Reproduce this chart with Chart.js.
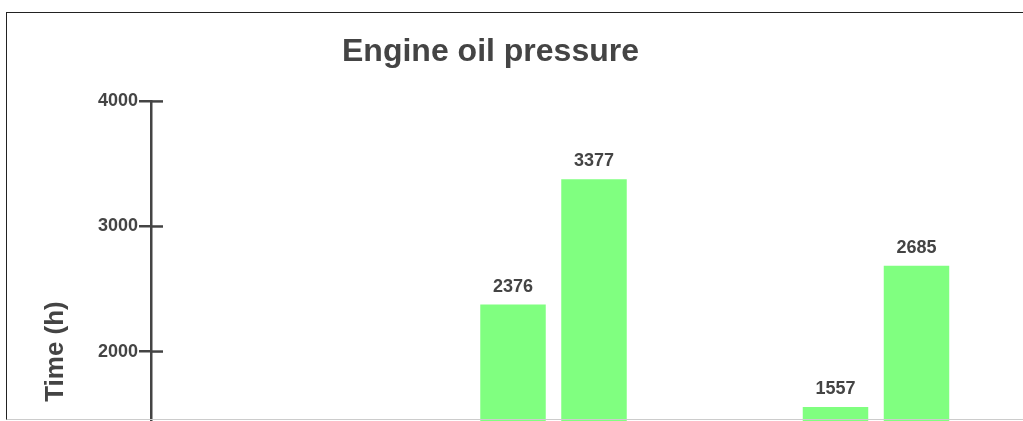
<!DOCTYPE html>
<html>
<head>
<meta charset="utf-8">
<script src="https://cdn.jsdelivr.net/npm/chart.js@4"></script>
<style>
  html, body { margin: 0; padding: 0; background: #fff; overflow: hidden; }
  #wrap { position: relative; width: 1023px; height: 421px; overflow: hidden; }
  #frame {
    position: absolute; left: 6px; top: 12px; width: 1100px; height: 406px;
    border-left: 1px solid #222; border-top: 1px solid #222; border-bottom: 1px solid #ccc;
    pointer-events: none;
  }
</style>
</head>
<body>
<div id="wrap">
  <canvas id="chart" width="1023" height="640"></canvas>
  <div id="frame"></div>
</div>
<script>
// slot positions of the visible groups (slot 0 lies below the visible crop)
const groupSlots = [1, 2];
const seriesA = [2376, 1557];
const seriesB = [3377, 2685];
const yTicks = [0, 1000, 2000, 3000, 4000];

const textColor = "#444";
const barColor = "#80ff80";

// tick marks crossing the axis
const crossTicks = {
    id: "crossTicks",
    afterDraw(chart) {
        const y = chart.scales.y;
        const ctx = chart.ctx;
        const left = chart.chartArea.left;
        ctx.save();
        ctx.strokeStyle = textColor;
        ctx.lineWidth = 2.5;
        y.ticks.forEach(t => {
            const py = y.getPixelForValue(t.value);
            ctx.beginPath();
            ctx.moveTo(left, py);
            ctx.lineTo(left + 12, py);
            ctx.stroke();
        });
        ctx.restore();
    }
};

// value labels above the bars
const barLabels = {
    id: "barLabels",
    afterDatasetsDraw(chart) {
        const ctx = chart.ctx;
        ctx.save();
        ctx.fillStyle = textColor;
        ctx.font = "bold 18px 'Liberation Sans', Arial, sans-serif";
        ctx.textAlign = "center";
        ctx.textBaseline = "alphabetic";
        chart.data.datasets.forEach((ds, i) => {
            chart.getDatasetMeta(i).data.forEach((bar, j) => {
                ctx.fillText(String(ds.data[j].y), bar.x, bar.y - 13);
            });
        });
        ctx.restore();
    }
};

new Chart(document.getElementById("chart"), {
    type: "bar",
    data: {
        datasets: [
            {
                label: "A",
                data: groupSlots.map((x, i) => ({ x: x, y: seriesA[i] })),
                backgroundColor: barColor
            },
            {
                label: "B",
                data: groupSlots.map((x, i) => ({ x: x, y: seriesB[i] })),
                backgroundColor: barColor
            }
        ]
    },
    options: {
        responsive: false,
        animation: false,
        categoryPercentage: 0.5023,
        barPercentage: 0.8086,
        layout: { padding: { left: 0, right: 42, top: 0, bottom: 38.3 } },
        plugins: {
            legend: { display: false },
            tooltip: { enabled: false },
            title: {
                display: true,
                text: "Engine oil pressure",
                color: textColor,
                font: { family: "'Liberation Sans', Arial, sans-serif", size: 32, weight: "bold" },
                padding: { top: 33, bottom: 30 }
            }
        },
        scales: {
            x: {
                type: "linear",
                display: false,
                offset: false,
                min: -0.2481,
                max: 2.3256,
                ticks: { stepSize: 1, includeBounds: false }
            },
            y: {
                min: 0,
                max: 4000,
                afterBuildTicks: s => { s.ticks = yTicks.map(v => ({ value: v })); },
                afterFit: s => { s.width = 151; },
                border: { display: true, color: textColor, width: 2.5 },
                grid: { drawOnChartArea: false, drawTicks: true, tickLength: 12, color: textColor, lineWidth: 2.5 },
                ticks: {
                    color: textColor,
                    padding: 1,
                    callback: v => String(v),
                    font: { family: "'Liberation Sans', Arial, sans-serif", size: 18, weight: "bold" }
                },
                title: {
                    display: true,
                    text: "Time (h)",
                    color: textColor,
                    padding: { top: 40.4, bottom: 0 },
                    font: { family: "'Liberation Sans', Arial, sans-serif", size: 26, weight: "bold" }
                }
            }
        }
    },
    plugins: [crossTicks, barLabels]
});
</script>
</body>
</html>
